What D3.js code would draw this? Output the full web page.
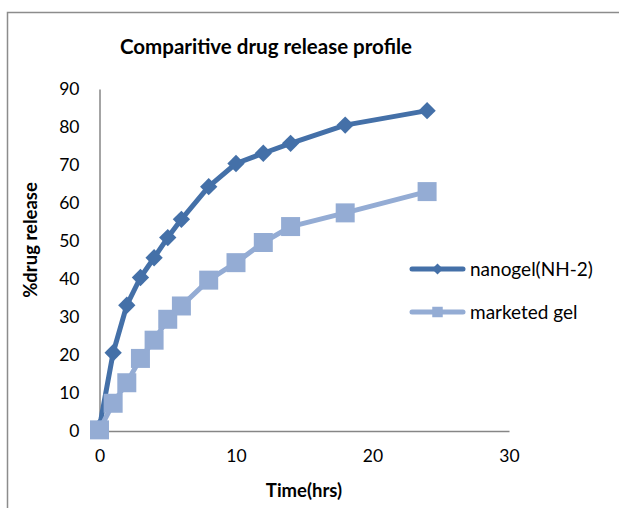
<!DOCTYPE html>
<html>
<head>
<meta charset="utf-8">
<script src="https://cdn.jsdelivr.net/npm/d3@7"></script>
<style>
  html, body { margin: 0; padding: 0; background: #fff; }
  svg { display: block; font-family: Lato, "Open Sans", sans-serif; }
</style>
</head>
<body>
<svg id="chart" width="619" height="508"></svg>
<script>
// Sampling times (hours)
const times = [0, 1, 2, 3, 4, 5, 6, 8, 10, 12, 14, 18, 24];
// Cumulative % drug release for each formulation
const nanogelRelease = [1, 20.6, 33.1, 40.4, 45.6, 50.9, 55.7, 64.3, 70.4, 73.1, 75.7, 80.5, 84.3];
const marketedRelease = [0.3, 7.3, 12.7, 19.1, 23.9, 29.4, 32.9, 39.7, 44.3, 49.6, 53.8, 57.4, 63.0];
const seriesNames = ["nanogel(NH-2)", "marketed gel"];
const xTicks = [0, 10, 20, 30];
const yTicks = [0, 10, 20, 30, 40, 50, 60, 70, 80, 90];

const svg = d3.select("#chart");
const axisColor = "#868686";
const colors = ["#4470A8", "#94ACD4"];

// chart frame (partially visible)
svg.append("path")
  .attr("d", "M7.5,508 L7.5,12.5 L619,12.5")
  .attr("fill", "none").attr("stroke", "#8c8c8c").attr("stroke-width", 1.5);

const x = d3.scaleLinear().domain([0, 30]).range([99.5, 509]);
const y = d3.scaleLinear().domain([0, 90]).range([431, 89]);

// axes
const yAxis = svg.append("g").attr("transform", `translate(${x(0)},0)`)
  .call(d3.axisLeft(y).tickValues(yTicks).tickSize(0).tickPadding(20));
const xAxis = svg.append("g").attr("transform", `translate(0,${y(0)})`)
  .call(d3.axisBottom(x).tickValues(xTicks).tickSize(0).tickPadding(19));
[yAxis, xAxis].forEach(g => {
  g.select(".domain").attr("stroke", axisColor).attr("stroke-width", 1.5);
  g.selectAll("text").attr("font-family", "Lato, sans-serif").attr("font-size", 17.5).attr("fill", "#000");
});

// titles
svg.append("text").attr("x", 266).attr("y", 54).attr("text-anchor", "middle")
  .attr("font-size", 20.5).attr("font-weight", "bold").text("Comparitive drug release profile");
svg.append("text").attr("x", 304).attr("y", 497).attr("text-anchor", "middle")
  .attr("font-size", 18.5).attr("font-weight", "bold").text("Time(hrs)");
svg.append("text").attr("transform", "translate(37,240) rotate(-90)").attr("text-anchor", "middle")
  .attr("font-size", 18.5).attr("font-weight", "bold").text("%drug release");

// diamond = square turned 45°
const diamond = {
  draw(ctx, size) {
    const r = Math.sqrt(size / 2);
    ctx.moveTo(0, -r); ctx.lineTo(r, 0); ctx.lineTo(0, r); ctx.lineTo(-r, 0); ctx.closePath();
  }
};

const series = [
  { name: seriesNames[0], values: nanogelRelease, color: colors[0], symbol: diamond, size: 150 },
  { name: seriesNames[1], values: marketedRelease, color: colors[1], symbol: d3.symbolSquare, size: 361 }
];

const line = d3.line().x(d => x(d[0])).y(d => y(d[1]));

series.forEach(s => {
  const pts = times.map((t, i) => [t, s.values[i]]);
  const g = svg.append("g");
  g.append("path").attr("d", line(pts)).attr("fill", "none")
    .attr("stroke", s.color).attr("stroke-width", 5).attr("stroke-linejoin", "round");
  g.selectAll("path.m").data(pts).join("path").attr("class", "m")
    .attr("transform", d => `translate(${x(d[0])},${y(d[1])})`)
    .attr("d", d3.symbol().type(s.symbol).size(s.size)).attr("fill", s.color);
});

// legend
const legY = [269, 312];
series.forEach((s, i) => {
  const g = svg.append("g").attr("transform", `translate(0,${legY[i]})`);
  g.append("line").attr("x1", 412).attr("x2", 463).attr("stroke", s.color)
    .attr("stroke-width", 5).attr("stroke-linecap", "round");
  g.append("path").attr("transform", "translate(437.5,0)")
    .attr("d", d3.symbol().type(s.symbol).size(i === 0 ? 60 : 110)).attr("fill", s.color);
  g.append("text").attr("x", 470).attr("y", 6.5).attr("font-size", 19).text(s.name);
});
</script>
</body>
</html>
